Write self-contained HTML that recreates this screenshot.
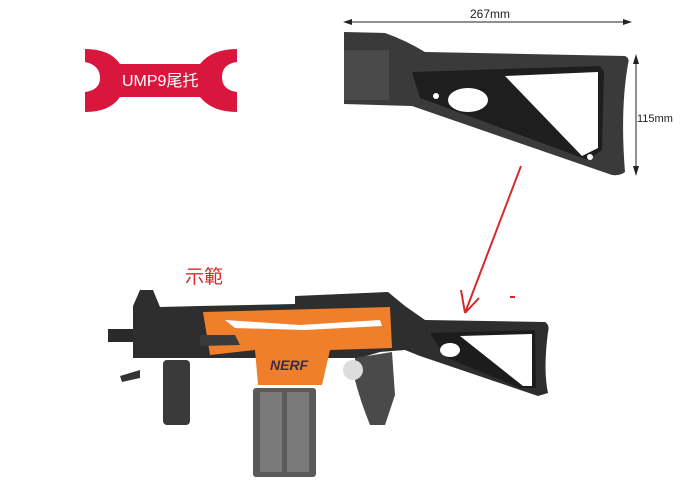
<!DOCTYPE html>
<html><head><meta charset="utf-8"><style>
html,body{margin:0;padding:0;background:#fff;}
svg{display:block}
</style></head><body>
<svg width="700" height="497" viewBox="0 0 700 497" xmlns="http://www.w3.org/2000/svg">
<!-- red label -->
<path d="M85 49 Q110 49 120 64 L200 64 Q212 49 237 49 L237 62 Q222 64 222 77 Q222 90 237 92 L237 112 Q212 112 200 97 L120 97 Q110 112 85 112 L85 92 Q100 90 100 78 Q100 65 85 62 Z" fill="#d9163e"/>
<text x="122" y="86" font-family="Liberation Sans, 'Noto Sans CJK SC', sans-serif" font-size="16" fill="#fff">UMP9尾托</text>
<!-- dimension lines -->
<line x1="345" y1="22" x2="630" y2="22" stroke="#222" stroke-width="1"/>
<path d="M343 22 L352 19 L352 25 Z M632 22 L623 19 L623 25 Z" fill="#222"/>
<text x="470" y="18" font-family="Liberation Sans, sans-serif" font-size="12" fill="#222">267mm</text>
<line x1="636" y1="56" x2="636" y2="174" stroke="#222" stroke-width="1"/>
<path d="M636 54 L633 64 L639 64 Z M636 176 L633 166 L639 166 Z" fill="#222"/>
<text x="637" y="122" font-family="Liberation Sans, sans-serif" font-size="11" fill="#222">115mm</text>
<!-- stock top -->
<path d="M344 32 L385 33 Q405 40 425 52 L625 56 Q630 58 628 64 Q620 110 625 172 Q620 176 612 175 L412 106 L344 104 Z" fill="#3a3a3a"/>
<rect x="344" y="50" width="45" height="50" fill="#4a4a4a"/>
<path d="M412 72 L600 66 L604 72 L602 150 L588 160 L420 98 Z" fill="#1e1e1e"/>
<path d="M505 76 L598 72 L598 148 L582 156 Z" fill="#fff"/>
<ellipse cx="468" cy="100" rx="20" ry="12" fill="#fff"/>
<circle cx="436" cy="96" r="3" fill="#fff"/><circle cx="590" cy="157" r="3" fill="#fff"/>
<!-- red arrow -->
<path d="M521 166 L465 313 M465 313 L461 290 M465 313 L479 298" stroke="#d42a2a" stroke-width="2" fill="none"/>
<rect x="510" y="296" width="5" height="2" fill="#d42a2a"/>
<text x="185" y="283" font-family="'Noto Sans CJK TC', sans-serif" font-size="19" fill="#d42a2a">示範</text>
<!-- gun -->
<rect x="108" y="329" width="25" height="13" fill="#2a2a2a"/>
<path d="M133 306 L140 290 L153 290 L160 307 L200 306 L295 304 L295 296 L388 292 L405 306 L425 320 L545 322 Q550 325 548 332 Q543 370 548 393 L538 396 L420 356 L405 350 L380 352 L360 358 L133 358 Z" fill="#2e2e2e"/>
<path d="M430 333 L535 330 L536 388 L520 388 L445 357 Z" fill="#1c1c1c"/>
<path d="M460 336 L532 334 L532 386 L523 386 Z" fill="#fff"/>
<ellipse cx="450" cy="350" rx="10" ry="7" fill="#fff"/>
<path d="M203 312 L390 307 L392 348 L330 350 L322 385 L258 385 L255 350 L210 355 Z" fill="#f07f2c"/>
<path d="M225 320 L300 325 L380 320 L382 326 L305 330 L235 328 Z" fill="#fff"/>
<path d="M200 335 L235 335 L240 345 L200 346 Z" fill="#3a3a3a"/>
<text x="270" y="370" font-family="Liberation Sans, sans-serif" font-style="italic" font-weight="bold" font-size="14" fill="#3a2d4a">NERF</text>
<rect x="253" y="388" width="63" height="89" rx="3" fill="#5a5a5a"/>
<rect x="260" y="392" width="22" height="80" fill="#7a7a7a"/>
<rect x="287" y="392" width="22" height="80" fill="#7a7a7a"/>
<rect x="163" y="360" width="27" height="65" rx="4" fill="#3a3a3a"/>
<path d="M120 376 L140 370 L140 378 L122 382 Z" fill="#333"/>
<path d="M355 358 L392 352 L395 395 L385 425 L370 425 Q360 400 355 380 Z" fill="#4a4a4a"/>
<ellipse cx="353" cy="370" rx="10" ry="10" fill="#ddd"/>
</svg>
</body></html>
